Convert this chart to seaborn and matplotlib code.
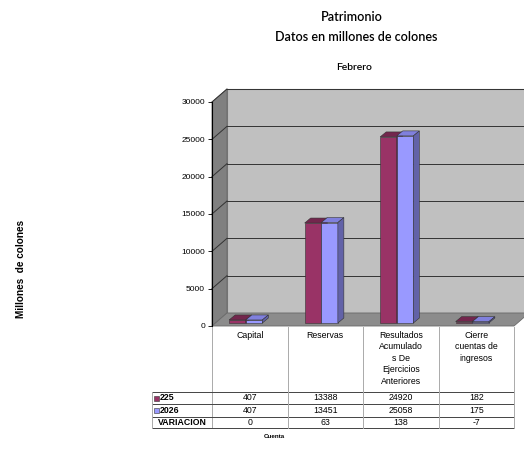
import numpy as np
import pandas as pd
import matplotlib
matplotlib.use("Agg")
import matplotlib.pyplot as plt
import matplotlib.transforms as mtransforms
from matplotlib.patches import Polygon, Rectangle
import seaborn as sns

# data
categories = ["Capital", "Reservas", "Resultados\nAcumulado\ns De\nEjercicios\nAnteriores",
              "Cierre\ncuentas de\ningresos"]
series_names = ["225", "2026"]
values_225 = [407, 13388, 24920, 182]
values_2026 = [407, 13451, 25058, 175]
variacion = [0, 63, 138, -7]
y_ticks = [0, 5000, 10000, 15000, 20000, 25000, 30000]

maroon = "#993366"
lavender = "#9999FF"
face_colors = {0: ("#73264d", "#662244"), 1: ("#8080dd", "#6262a8")}

plt.rcParams["font.family"] = ["Liberation Sans", "DejaVu Sans"]

df = pd.DataFrame({
    "Cuenta": list(range(4)) * 2,
    "Serie": [series_names[0]] * 4 + [series_names[1]] * 4,
    "Valor": values_225 + values_2026,
})

W, H = 524, 451
fig = plt.figure(figsize=(W / 100, H / 100), dpi=100)
fig.patch.set_facecolor("white")

def fy(py):
    return 1 - py / H

ax = fig.add_axes([212 / W, fy(326), (514 - 212) / W, (326 - 102) / H])
ax.set_xlim(-0.5, 3.5)
ax.set_ylim(0, 30000)
ax.set_facecolor("none")

sns.barplot(data=df, x="Cuenta", y="Valor", hue="Serie", order=list(range(4)),
            palette=[maroon, lavender], width=0.44, saturation=1, ax=ax,
            legend=False, native_scale=True, edgecolor="#333333", linewidth=0.4)
ax.set_xlim(-0.5, 3.5)
ax.set_ylim(0, 30000)

# walls, floor and grid in pixel space
ident = mtransforms.IdentityTransform()
D = np.array([15.0, 13.0])

def P(x, y):
    return ax.transData.transform((x, y))

x0, x1, ytop = -0.5, 3.5, 30000
back = Polygon([P(x0, 0) + D, P(x1, 0) + D, P(x1, ytop) + D, P(x0, ytop) + D],
               closed=True, facecolor="#c0c0c0", edgecolor="#7a7a7a", lw=0.8,
               transform=ident, zorder=0.5)
side = Polygon([P(x0, 0), P(x0, 0) + D, P(x0, ytop) + D, P(x0, ytop)],
               closed=True, facecolor="#808080", edgecolor="#6a6a6a", lw=0.6,
               transform=ident, zorder=0.6)
floor = Polygon([P(x0, 0), P(x1, 0), P(x1, 0) + D, P(x0, 0) + D],
                closed=True, facecolor="#8c8c8c", edgecolor="#6a6a6a", lw=0.6,
                transform=ident, zorder=0.6)
for p in (back, side, floor):
    p.set_clip_on(False)
    ax.add_patch(p)

for yv in y_ticks[1:]:
    a, b = P(x0, yv) + D, P(x1, yv) + D
    ax.add_line(plt.Line2D([a[0], b[0]], [a[1], b[1]], color="#333333", lw=0.7,
                           transform=ident, zorder=0.8, clip_on=False))
    c = P(x0, yv)
    ax.add_line(plt.Line2D([c[0], a[0]], [c[1], a[1]], color="#333333", lw=0.7,
                           transform=ident, zorder=0.8, clip_on=False))

# shift bars and add 3d faces
bar_off = mtransforms.offset_copy(ax.transData, fig=fig, x=-4, y=3, units="dots")
depth = np.array([6.0, 5.0])
for i, cont in enumerate(ax.containers):
    top_c, side_c = face_colors[i]
    for bar in cont:
        bar.set_transform(bar_off)
        bar.set_zorder(3 + 2 * i)
        bx, bw, bh = bar.get_x(), bar.get_width(), bar.get_height()
        T = lambda x, y: bar_off.transform((x, y))
        top = Polygon([T(bx, bh), T(bx + bw, bh), T(bx + bw, bh) + depth, T(bx, bh) + depth],
                      closed=True, facecolor=top_c, edgecolor="#333333", lw=0.4,
                      transform=ident, zorder=4 + 2 * i, clip_on=False)
        sd = Polygon([T(bx + bw, 0), T(bx + bw, bh), T(bx + bw, bh) + depth, T(bx + bw, 0) + depth],
                     closed=True, facecolor=side_c, edgecolor="#333333", lw=0.4,
                     transform=ident, zorder=4 + 2 * i, clip_on=False)
        ax.add_patch(top)
        ax.add_patch(sd)

# axis styling
for s in ["top", "right", "bottom"]:
    ax.spines[s].set_visible(False)
ax.spines["left"].set_color("black")
ax.spines["left"].set_linewidth(0.8)
ax.set_yticks(y_ticks)
ax.set_yticklabels([str(t) for t in y_ticks])
ax.tick_params(axis="y", direction="out", length=3, width=0.6, labelsize=6, pad=2)
ax.set_xticks([])
ax.set_xlabel("")
ax.set_ylabel("")

# data table under the chart
bt = mtransforms.blended_transform_factory(ax.transData, fig.transFigure)
line_kw = dict(clip_on=False)
row_y = [392, 404, 417, 428]
for py in row_y:
    ax.plot([-0.5, 3.5], [fy(py)] * 2, color="#444444", lw=0.7, transform=bt, **line_kw)
    fig.add_artist(plt.Line2D([152 / W, 212 / W], [fy(py)] * 2, color="#444444", lw=0.7,
                              transform=fig.transFigure))
for xb in np.arange(-0.5, 4.0, 1.0):
    ax.plot([xb, xb], [fy(327), fy(428)], color="#aaaaaa", lw=0.7, transform=bt, **line_kw)
fig.add_artist(plt.Line2D([152 / W] * 2, [fy(392), fy(428)], color="#aaaaaa", lw=0.7,
                          transform=fig.transFigure))

for i, cat in enumerate(categories):
    ax.text(i, fy(331), cat, ha="center", va="top", fontsize=6.3, linespacing=1.35,
            transform=bt)
rows = [values_225, values_2026, variacion]
for r, vals in enumerate(rows):
    yc = fy((row_y[r] + row_y[r + 1]) / 2)
    for i, v in enumerate(vals):
        ax.text(i, yc, str(v), ha="center", va="center", fontsize=6.3, transform=bt)

# row labels with legend keys
for r, (name, col) in enumerate(zip(series_names, [maroon, lavender])):
    yc = fy((row_y[r] + row_y[r + 1]) / 2)
    fig.add_artist(Rectangle((154 / W, yc - 2.5 / H), 5 / W, 5 / H, facecolor=col,
                             edgecolor="#333333", lw=0.4, transform=fig.transFigure))
    fig.text(160 / W, yc, name, ha="left", va="center", fontsize=6.3, fontweight="bold")
fig.text(182 / W, fy((row_y[2] + row_y[3]) / 2), "VARIACION", ha="center", va="center",
         fontsize=6.3, fontweight="bold")

fig.text(274 / W, fy(436), "Cuenta", ha="center", va="center", fontsize=4.5, fontweight="bold")
fig.text(21 / W, fy(269), "Millones  de colones", ha="center", va="center", rotation=90,
         fontsize=7.2, fontweight="bold")

# titles
tf = ["Lato", "DejaVu Sans"]
fig.text(352 / W, fy(17), "Patrimonio", ha="center", va="center", fontsize=9,
         family=tf, fontweight="semibold")
fig.text(356 / W, fy(37), "Datos en millones de colones", ha="center", va="center",
         fontsize=9, family=tf, fontweight="semibold")
fig.text(354 / W, fy(67), "Febrero", ha="center", va="center", fontsize=7.5,
         family=tf, fontweight="semibold")

fig.savefig("out.png", dpi=100)
